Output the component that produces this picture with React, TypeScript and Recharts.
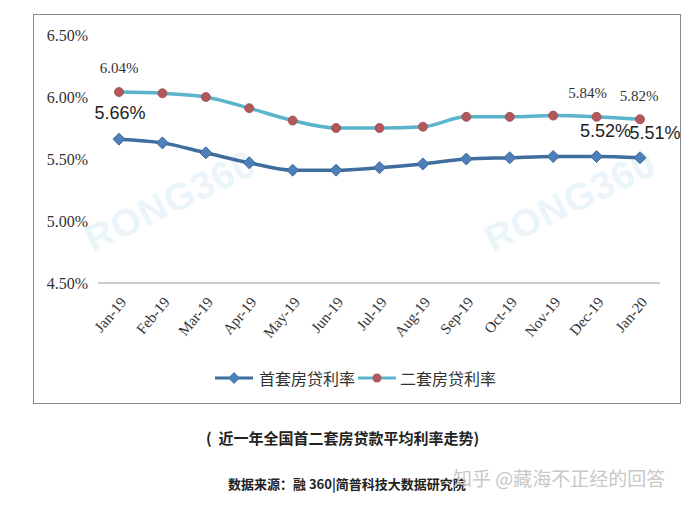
import { LineChart, Line, XAxis, YAxis, LabelList } from "recharts";

const months = ["Jan-19", "Feb-19", "Mar-19", "Apr-19", "May-19", "Jun-19", "Jul-19", "Aug-19", "Sep-19", "Oct-19", "Nov-19", "Dec-19", "Jan-20"];
const firstHome = [5.66, 5.63, 5.55, 5.47, 5.41, 5.41, 5.43, 5.46, 5.5, 5.51, 5.52, 5.52, 5.51];
const secondHome = [6.04, 6.03, 6.0, 5.91, 5.81, 5.75, 5.75, 5.76, 5.84, 5.84, 5.85, 5.84, 5.82];
const yTicks = [4.5, 5.0, 5.5, 6.0, 6.5];
const firstLabels: Record<number, string> = { 0: "5.66%", 11: "5.52%", 12: "5.51%" };
const secondLabels: Record<number, string> = { 0: "6.04%", 11: "5.84%", 12: "5.82%" };

const data = months.map((m, i) => ({ month: m, first: firstHome[i], second: secondHome[i] }));

const SERIF = "'Liberation Serif', 'DejaVu Serif', serif";
const CJK = "'Noto Sans CJK SC', 'Noto Sans', sans-serif";

function Diamond(props: any) {
  const { cx, cy } = props;
  if (cx == null || cy == null) return null;
  const r = 6;
  return <path d={`M${cx},${cy - r}L${cx + r},${cy}L${cx},${cy + r}L${cx - r},${cy}Z`} fill="#4f7fb8" stroke="#3f6a9c" strokeWidth={1} />;
}

function Dot(props: any) {
  const { cx, cy } = props;
  if (cx == null || cy == null) return null;
  return <circle cx={cx} cy={cy} r={4.5} fill="#b2585a" stroke="#a04a4c" strokeWidth={0.8} />;
}

function XTick(props: any) {
  const { x, y, payload } = props;
  return (
    <g transform={`translate(${x + 5},${y + 9})`}>
      <text transform="rotate(-50)" textAnchor="end" dy={4} fontSize={15} fill="#333" fontFamily={SERIF}>{payload.value}</text>
    </g>
  );
}

function FirstLabel(props: any) {
  const { x, y, index } = props;
  const t = firstLabels[index];
  if (!t) return null;
  const dx = index === 0 ? 1 : index === 11 ? 9 : 15;
  const dy = index === 0 ? -25 : -24;
  return <text x={x + dx} y={y + dy} textAnchor="middle" dominantBaseline="middle" fontSize={18} fontWeight={500} fill="#222" fontFamily="Arial, 'Liberation Sans', sans-serif">{t}</text>;
}

function SecondLabel(props: any) {
  const { x, y, index } = props;
  const t = secondLabels[index];
  if (!t) return null;
  const dx = index === 0 ? 0 : index === 11 ? -9 : -1;
  return <text x={x + dx} y={y - 22} textAnchor="middle" dominantBaseline="middle" fontSize={15} fill="#333" fontFamily={SERIF}>{t}</text>;
}

function LegendIcon({ line, marker }: { line: string; marker: "diamond" | "dot" }) {
  return (
    <svg width={38} height={14} style={{ verticalAlign: "middle" }}>
      <line x1={0} y1={7} x2={38} y2={7} stroke={line} strokeWidth={3} />
      {marker === "diamond"
        ? <path d="M19,1L25,7L19,13L13,7Z" fill="#4f7fb8" />
        : <circle cx={19} cy={7} r={4.5} fill="#b2585a" />}
    </svg>
  );
}

export default function App() {
  return (
    <div style={{ position: "absolute", left: 0, top: 0, width: 698, height: 505, background: "#fff", overflow: "hidden" }}>
      {/* frame */}
      <div style={{ position: "absolute", left: 33, top: 14, width: 646, height: 388, border: "1px solid #8a8a8a" }} />

      {/* RONG360 watermarks */}
      <div style={{ position: "absolute", left: 78, top: 180, transform: "rotate(-26deg)", fontFamily: "Arial, sans-serif", fontWeight: 700, fontSize: 38, color: "#eaf5fa", letterSpacing: 1 }}>RONG360</div>
      <div style={{ position: "absolute", left: 478, top: 180, transform: "rotate(-26deg)", fontFamily: "Arial, sans-serif", fontWeight: 700, fontSize: 38, color: "#eaf5fa", letterSpacing: 1 }}>RONG360</div>

      <div style={{ position: "absolute", left: 0, top: 0 }}>
        <LineChart width={698} height={363} data={data} margin={{ top: 35, right: 38, bottom: 10, left: 38 }}>
          <XAxis dataKey="month" interval={0} tick={<XTick />} tickLine={false} axisLine={{ stroke: "#9a9a9a" }} padding={{ left: 21, right: 20 }} height={70} />
          <YAxis domain={[4.5, 6.5]} ticks={yTicks} width={60} axisLine={false} tickLine={false}
            tickFormatter={(v: number) => `${v.toFixed(2)}%`}
            tick={{ fontSize: 16, fill: "#333", fontFamily: SERIF }} tickMargin={4} />
          <Line type="monotone" dataKey="first" stroke="#3f6d9e" strokeWidth={3.5} dot={<Diamond />} isAnimationActive={false}>
            <LabelList dataKey="first" content={<FirstLabel />} />
          </Line>
          <Line type="monotone" dataKey="second" stroke="#5ab4cc" strokeWidth={3.5} dot={<Dot />} isAnimationActive={false}>
            <LabelList dataKey="second" content={<SecondLabel />} />
          </Line>
        </LineChart>
      </div>

      {/* legend */}
      <div style={{ position: "absolute", left: 215, top: 366, display: "flex", alignItems: "center", fontFamily: CJK, fontSize: 16, color: "#333", whiteSpace: "nowrap" }}>
        <LegendIcon line="#3f6d9e" marker="diamond" />
        <span style={{ marginLeft: 6, marginRight: 3 }}>首套房贷利率</span>
        <LegendIcon line="#5ab4cc" marker="dot" />
        <span style={{ marginLeft: 4 }}>二套房贷利率</span>
      </div>

      {/* caption */}
      <div style={{ position: "absolute", left: 206, top: 427, fontFamily: CJK, fontWeight: 700, fontSize: 15, color: "#222", whiteSpace: "nowrap" }}>(&nbsp;&nbsp;近一年全国首二套房贷款平均利率走势)</div>
      <div style={{ position: "absolute", left: 228, top: 474, fontFamily: CJK, fontWeight: 700, fontSize: 13, color: "#222", whiteSpace: "nowrap" }}>数据来源：融 360|简普科技大数据研究院</div>
      <div style={{ position: "absolute", left: 453, top: 464, fontFamily: CJK, fontSize: 19, color: "#c8c8c8", whiteSpace: "nowrap" }}>知乎 @藏海不正经的回答</div>
    </div>
  );
}
